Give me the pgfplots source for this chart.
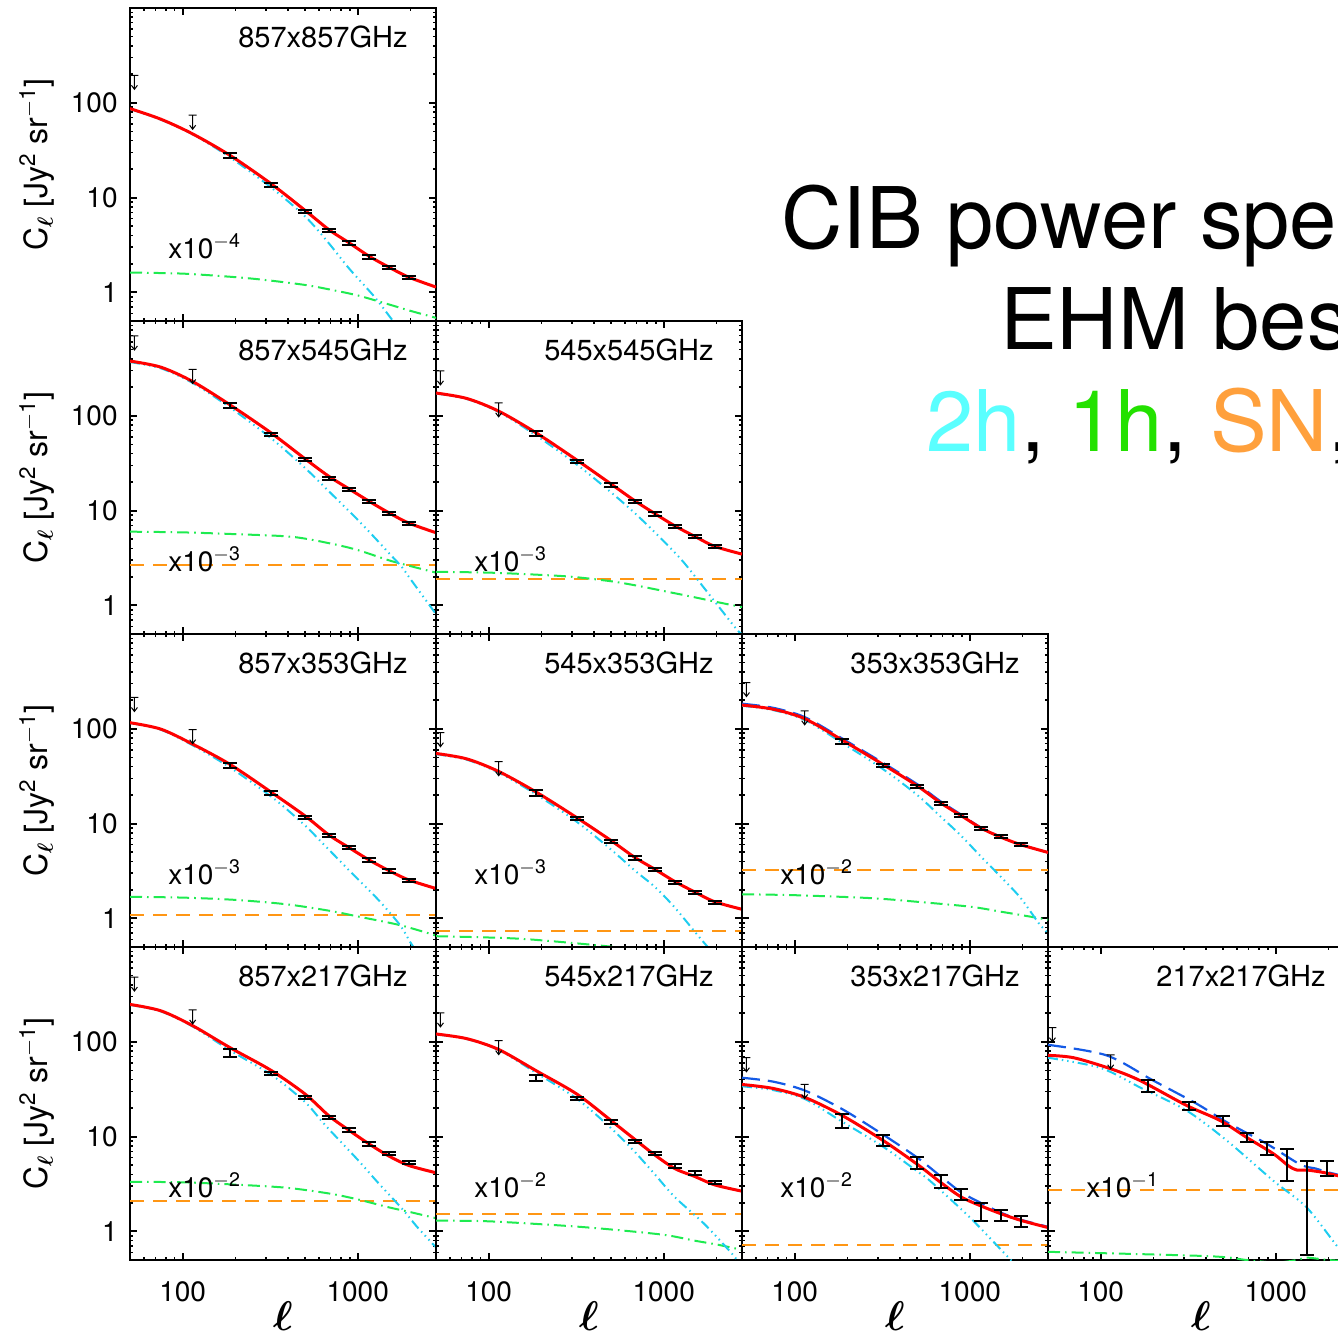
\documentclass[border=0pt]{standalone}
\usepackage{fontspec}
\setmainfont{TeX Gyre Heros}
\usepackage{bm}
\usepackage{pgfplots}
\pgfplotsset{compat=1.18}

\definecolor{cred}{RGB}{255,0,0}
\definecolor{c2h}{RGB}{30,205,240}
\definecolor{c1h}{RGB}{30,235,80}
\definecolor{csn}{RGB}{255,150,20}
\definecolor{cblue}{RGB}{20,90,230}
\definecolor{t2h}{RGB}{90,255,255}
\definecolor{t1h}{RGB}{35,225,0}
\definecolor{tsn}{RGB}{255,160,60}

\pgfdeclareplotmark{ul}{%
  \pgfpathmoveto{\pgfqpoint{-2pt}{0pt}}\pgfpathlineto{\pgfqpoint{2pt}{0pt}}%
  \pgfpathmoveto{\pgfqpoint{0pt}{0pt}}\pgfpathlineto{\pgfqpoint{0pt}{-7pt}}%
  \pgfpathmoveto{\pgfqpoint{-1.5pt}{-5pt}}\pgfpathlineto{\pgfqpoint{0pt}{-7pt}}\pgfpathlineto{\pgfqpoint{1.5pt}{-5pt}}%
  \pgfusepathqstroke}

\pgfplotsset{
  scale only axis, width=153pt, height=156.5pt,
  xmin=50, xmax=2800, ymin=0.5, ymax=1000,
  xtick={100,1000}, ytick={1,10,100},
  minor xtick={60,70,80,90,200,300,400,500,600,700,800,900,2000},
  minor ytick={0.6,0.7,0.8,0.9,2,3,4,5,6,7,8,9,20,30,40,50,60,70,80,90,200,300,400,500,600,700,800,900},
  tick align=inside, major tick length=3.5pt, minor tick length=1.6pt,
  every major tick/.append style={black, line width=1pt},
  every minor tick/.append style={black, line width=0.8pt},
  axis line style={line width=1.3pt},
  tick label style={font=\fontsize{14}{16}\selectfont},
  xticklabel style={anchor=center, yshift=-16pt},
  yticklabel style={anchor=east, inner sep=0pt, xshift=-6pt},
  ylabel style={at={(axis description cs:-0.304,0.5)}, anchor=center, font=\fontsize{16}{19}\selectfont},
  xlabel style={at={(axis description cs:0.5,-0.18)}, anchor=center, font=\fontsize{22}{26}\selectfont},
}
\tikzset{
  cibtot/.style={color=cred, line width=1.5pt, solid, mark=none, smooth},
  cibtwoh/.style={color=c2h, line width=1pt, mark=none, smooth, dash pattern=on 5pt off 2pt on 0.7pt off 2pt on 0.7pt off 2pt on 0.7pt off 2pt},
  ciboneh/.style={color=c1h, line width=1pt, mark=none, smooth, dash pattern=on 6pt off 2.5pt on 0.8pt off 2.5pt},
  cibsn/.style={color=csn, line width=1pt, mark=none, dash pattern=on 7pt off 4.5pt},
  cibbl/.style={color=cblue, line width=1.1pt, mark=none, smooth, dash pattern=on 9pt off 4pt},
  ciblim/.style={mark=ul, mark options={black, solid, line width=0.5pt}},
  plab/.style={anchor=north east, inner sep=0pt, font=\fontsize{14.5}{17}\selectfont, xshift=-14pt, yshift=-8.5pt},
  mlab/.style={anchor=base west, inner sep=0pt, font=\fontsize{14}{16}\selectfont},
}
\newcommand{\ylab}{C\textsubscript{$\bm{\ell}$} [Jy\textsuperscript{2} sr\textsuperscript{$-$1}]}

\begin{document}
\begin{tikzpicture}

% ---------- 857x857 ----------
\begin{loglogaxis}[anchor=north west, at={(65pt,-4pt)}, xticklabels={}, yticklabels={1,10,100}, ylabel={\ylab}]
\addplot[ciboneh] coordinates {(50,1.62)(100,1.58)(200,1.45)(300,1.35)(500,1.2)(700,1.07)(1000,0.93)(1500,0.75)(2000,0.64)(2800,0.54)};
\addplot[cibtwoh] coordinates {(50,86)(75,66.4)(114,46.5)(187,26.5)(320,12.8)(502,6.3)(684,3.3)(890,1.8)(1158,1.05)(1305,0.81)(1592,0.5)(2000,0.3)(2800,0.13)};
\addplot[cibtot] coordinates {(50,87)(75,67.2)(114,47)(187,27.8)(320,14)(502,7.3)(684,4.6)(890,3.35)(1158,2.42)(1505,1.85)(1956,1.45)(2800,1.14)};
\addplot[draw=none, mark=none, error bars/.cd, y dir=both, y explicit, error bar style={draw=black, solid, line width=1pt}, error mark options={draw=black, solid, rotate=90, mark size=3.5pt, line width=1pt}] coordinates {(187,27.8) +- (0,1.7) (320,13.6) +- (0,0.55) (502,7.1) +- (0,0.28) (684,4.48) +- (0,0.18) (890,3.32) +- (0,0.13) (1158,2.38) +- (0,0.1) (1505,1.83) +- (0,0.07) (1956,1.44) +- (0,0.06)};
\addplot[only marks, ciblim] coordinates {(53,195)(114,74)};
\node[plab] at (rel axis cs:1,1) {857x857GHz};
\node[mlab] at (rel axis cs:0.124,0.2) {x10\textsuperscript{$-$4}};
\end{loglogaxis}

% ---------- 857x545 ----------
\begin{loglogaxis}[anchor=north west, at={(65pt,-160.5pt)}, xticklabels={}, yticklabels={1,10,100}, ylabel={\ylab}]
\addplot[cibsn] coordinates {(50,2.66)(2800,2.66)};
\addplot[ciboneh] coordinates {(50,6.0)(100,5.9)(200,5.65)(420,5.3)(700,4.5)(1000,3.84)(1500,3.0)(2000,2.6)(2800,2.22)};
\addplot[cibtwoh] coordinates {(50,369)(75,317)(114,222)(187,122)(320,58)(502,28)(684,16)(1000,8.0)(1300,4.8)(1500,3.6)(1785,2.55)(2000,1.9)(2800,0.81)};
\addplot[cibtot] coordinates {(50,378)(75,326)(114,230)(187,130)(320,66)(502,35)(684,23)(890,17)(1158,12.6)(1505,9.5)(1956,7.4)(2800,5.85)};
\addplot[draw=none, mark=none, error bars/.cd, y dir=both, y explicit, error bar style={draw=black, solid, line width=1pt}, error mark options={draw=black, solid, rotate=90, mark size=3.5pt, line width=1pt}] coordinates {(187,128) +- (0,8) (320,64) +- (0,2.6) (502,34.4) +- (0,1.4) (684,22) +- (0,0.9) (890,16.6) +- (0,0.66) (1158,12.4) +- (0,0.5) (1505,9.4) +- (0,0.38) (1956,7.3) +- (0,0.3)};
\addplot[only marks, ciblim] coordinates {(53,695)(114,308)};
\node[plab] at (rel axis cs:1,1) {857x545GHz};
\node[mlab] at (rel axis cs:0.124,0.2) {x10\textsuperscript{$-$3}};
\end{loglogaxis}

% ---------- 545x545 ----------
\begin{loglogaxis}[anchor=north west, at={(218pt,-160.5pt)}, xticklabels={}, yticklabels={}]
\addplot[cibsn] coordinates {(50,1.92)(2800,1.92)};
\addplot[ciboneh] coordinates {(50,2.26)(100,2.22)(200,2.1)(305,2.0)(500,1.8)(700,1.62)(1000,1.42)(1500,1.22)(2000,1.09)(2800,0.96)};
\addplot[cibtwoh] coordinates {(50,172)(75,150.4)(114,110)(187,62)(320,30.5)(502,15.5)(684,9.4)(890,5.9)(1158,3.6)(1355,2.6)(1956,1.1)(2610,0.56)(2800,0.5)};
\addplot[cibtot] coordinates {(50,174)(75,152.4)(114,112)(187,66)(320,34)(502,19)(684,12.7)(890,9.3)(1158,6.9)(1505,5.35)(1956,4.2)(2800,3.48)};
\addplot[draw=none, mark=none, error bars/.cd, y dir=both, y explicit, error bar style={draw=black, solid, line width=1pt}, error mark options={draw=black, solid, rotate=90, mark size=3.5pt, line width=1pt}] coordinates {(187,65) +- (0,4) (320,33) +- (0,1.3) (502,18.7) +- (0,0.75) (684,12.4) +- (0,0.5) (890,9.2) +- (0,0.37) (1158,6.8) +- (0,0.27) (1505,5.3) +- (0,0.21) (1956,4.16) +- (0,0.17)};
\addplot[only marks, ciblim] coordinates {(53,298)(114,137)};
\node[plab] at (rel axis cs:1,1) {545x545GHz};
\node[mlab] at (rel axis cs:0.124,0.2) {x10\textsuperscript{$-$3}};
\end{loglogaxis}

% ---------- 857x353 ----------
\begin{loglogaxis}[anchor=north west, at={(65pt,-317pt)}, xticklabels={}, yticklabels={1,10,100}, ylabel={\ylab}]
\addplot[cibsn] coordinates {(50,1.08)(2800,1.08)};
\addplot[ciboneh] coordinates {(50,1.69)(100,1.66)(200,1.57)(393,1.41)(700,1.2)(1000,1.05)(1745,0.85)(2800,0.66)};
\addplot[cibtwoh] coordinates {(50,115)(75,97.8)(114,67)(187,39)(330,18.5)(502,9.5)(610,6.6)(944,2.9)(1300,1.6)(1745,0.85)(2080,0.5)(2800,0.25)};
\addplot[cibtot] coordinates {(50,116)(75,99.3)(114,69)(187,42)(320,21.5)(502,12)(684,7.6)(890,5.6)(1158,4.15)(1505,3.2)(1956,2.55)(2800,2.07)};
\addplot[draw=none, mark=none, error bars/.cd, y dir=both, y explicit, error bar style={draw=black, solid, line width=1pt}, error mark options={draw=black, solid, rotate=90, mark size=3.5pt, line width=1pt}] coordinates {(187,41) +- (0,2.5) (320,21.1) +- (0,0.85) (502,11.7) +- (0,0.47) (684,7.5) +- (0,0.3) (890,5.6) +- (0,0.22) (1158,4.13) +- (0,0.17) (1505,3.18) +- (0,0.13) (1956,2.5) +- (0,0.1)};
\addplot[only marks, ciblim] coordinates {(53,214)(114,98)};
\node[plab] at (rel axis cs:1,1) {857x353GHz};
\node[mlab] at (rel axis cs:0.124,0.2) {x10\textsuperscript{$-$3}};
\end{loglogaxis}

% ---------- 545x353 ----------
\begin{loglogaxis}[anchor=north west, at={(218pt,-317pt)}, xticklabels={}, yticklabels={}]
\addplot[cibsn] coordinates {(50,0.74)(2800,0.74)};
\addplot[ciboneh] coordinates {(50,0.65)(100,0.63)(175,0.6)(522,0.5)(1000,0.42)(2800,0.3)};
\addplot[cibtwoh] coordinates {(50,54)(75,47.2)(114,34.5)(187,20.3)(320,10.4)(502,5.3)(684,3.2)(890,2.15)(1158,1.3)(1706,0.55)(2800,0.2)};
\addplot[cibtot] coordinates {(50,55)(75,48.2)(114,35.5)(187,21.5)(320,11.5)(502,6.6)(684,4.4)(890,3.3)(1158,2.45)(1505,1.9)(1956,1.5)(2800,1.25)};
\addplot[draw=none, mark=none, error bars/.cd, y dir=both, y explicit, error bar style={draw=black, solid, line width=1pt}, error mark options={draw=black, solid, rotate=90, mark size=3.5pt, line width=1pt}] coordinates {(187,21.1) +- (0,1.3) (320,11.3) +- (0,0.45) (502,6.5) +- (0,0.26) (684,4.34) +- (0,0.17) (890,3.26) +- (0,0.13) (1158,2.41) +- (0,0.1) (1505,1.88) +- (0,0.08) (1956,1.48) +- (0,0.06)};
\addplot[only marks, ciblim] coordinates {(53,91)(114,45)};
\node[plab] at (rel axis cs:1,1) {545x353GHz};
\node[mlab] at (rel axis cs:0.124,0.2) {x10\textsuperscript{$-$3}};
\end{loglogaxis}

% ---------- 353x353 ----------
\begin{loglogaxis}[anchor=north west, at={(371pt,-317pt)}, xticklabels={}, yticklabels={}]
\addplot[cibsn] coordinates {(50,3.26)(2800,3.26)};
\addplot[ciboneh] coordinates {(50,1.8)(100,1.76)(270,1.64)(500,1.5)(1009,1.33)(1500,1.18)(2000,1.08)(2800,0.97)};
\addplot[cibtwoh] coordinates {(50,175)(75,157.8)(114,124)(187,71)(320,37.5)(502,20)(684,11.8)(890,7.5)(1158,4.5)(1505,2.75)(1956,1.64)(2480,0.89)(2800,0.7)};
\addplot[cibbl] coordinates {(50,184)(75,166.9)(114,133)(187,79)(320,43.7)(502,26)(684,17.1)(890,12.5)(1158,9.1)(1505,7.25)(1956,6.0)(2800,4.97)};
\addplot[cibtot] coordinates {(50,178)(75,161.3)(114,128)(187,76)(320,42)(502,25)(684,16.5)(890,12.2)(1158,9.0)(1505,7.2)(1956,6.0)(2800,4.97)};
\addplot[draw=none, mark=none, error bars/.cd, y dir=both, y explicit, error bar style={draw=black, solid, line width=1pt}, error mark options={draw=black, solid, rotate=90, mark size=3.5pt, line width=1pt}] coordinates {(187,74) +- (0,4.5) (320,41) +- (0,1.6) (502,24.5) +- (0,1.0) (684,16.3) +- (0,0.65) (890,12.2) +- (0,0.5) (1158,8.9) +- (0,0.36) (1505,7.3) +- (0,0.3) (1956,6.0) +- (0,0.24)};
\addplot[only marks, ciblim] coordinates {(53,308)(114,155)};
\node[plab] at (rel axis cs:1,1) {353x353GHz};
\node[mlab] at (rel axis cs:0.124,0.2) {x10\textsuperscript{$-$2}};
\end{loglogaxis}

% ---------- 857x217 ----------
\begin{loglogaxis}[anchor=north west, at={(65pt,-473.5pt)}, xticklabels={100,1000}, xlabel={$\bm{\ell}$}, yticklabels={1,10,100}, ylabel={\ylab}]
\addplot[cibsn] coordinates {(50,2.12)(2800,2.12)};
\addplot[ciboneh] coordinates {(50,3.34)(100,3.3)(200,3.12)(393,2.89)(700,2.5)(1009,2.17)(1500,1.8)(2000,1.6)(2800,1.38)};
\addplot[cibtwoh] coordinates {(50,245)(75,209.4)(114,145)(187,81)(323,44.5)(502,23)(650,13.3)(1009,5.6)(1300,3.3)(1785,1.75)(2200,1.1)(2800,0.68)};
\addplot[cibtot] coordinates {(50,248)(75,212.5)(114,148)(187,86.5)(320,50)(502,28)(684,16.6)(890,11.7)(1158,8.4)(1505,6.25)(1956,4.97)(2800,4.16)};
\addplot[draw=none, mark=none, error bars/.cd, y dir=both, y explicit, error bar style={draw=black, solid, line width=1pt}, error mark options={draw=black, solid, rotate=90, mark size=3.5pt, line width=1pt}] coordinates {(187,77) +- (0,7.5) (320,46.5) +- (0,1.9) (502,25.9) +- (0,1.0) (684,15.9) +- (0,0.64) (890,11.8) +- (0,0.47) (1158,8.4) +- (0,0.34) (1505,6.7) +- (0,0.27) (1956,5.3) +- (0,0.21)};
\addplot[only marks, ciblim] coordinates {(53,482)(114,217)};
\node[plab] at (rel axis cs:1,1) {857x217GHz};
\node[mlab] at (rel axis cs:0.124,0.2) {x10\textsuperscript{$-$2}};
\end{loglogaxis}

% ---------- 545x217 ----------
\begin{loglogaxis}[anchor=north west, at={(218pt,-473.5pt)}, xticklabels={100,1000}, xlabel={$\bm{\ell}$}, yticklabels={}]
\addplot[cibsn] coordinates {(50,1.54)(2800,1.54)};
\addplot[ciboneh] coordinates {(50,1.3)(100,1.28)(270,1.15)(500,1.05)(1009,0.92)(1500,0.8)(2000,0.73)(2800,0.64)};
\addplot[cibtwoh] coordinates {(50,120)(75,107)(114,82)(187,47)(320,25)(502,12.2)(684,6.9)(890,4.0)(1158,2.3)(1706,1.2)(2480,0.57)(2800,0.42)};
\addplot[cibtot] coordinates {(50,121)(75,108)(114,83)(187,49.5)(320,28)(502,14.7)(684,9.35)(890,6.4)(1158,4.6)(1505,3.8)(1956,3.1)(2800,2.66)};
\addplot[draw=none, mark=none, error bars/.cd, y dir=both, y explicit, error bar style={draw=black, solid, line width=1pt}, error mark options={draw=black, solid, rotate=90, mark size=3.5pt, line width=1pt}] coordinates {(187,42) +- (0,3.2) (320,25.3) +- (0,1.0) (502,14.3) +- (0,0.57) (684,8.9) +- (0,0.36) (890,6.7) +- (0,0.27) (1158,4.9) +- (0,0.2) (1505,4.16) +- (0,0.17) (1956,3.26) +- (0,0.13)};
\addplot[only marks, ciblim] coordinates {(53,202)(114,103)};
\node[plab] at (rel axis cs:1,1) {545x217GHz};
\node[mlab] at (rel axis cs:0.124,0.2) {x10\textsuperscript{$-$2}};
\end{loglogaxis}

% ---------- 353x217 ----------
\begin{loglogaxis}[anchor=north west, at={(371pt,-473.5pt)}, xticklabels={100,1000}, xlabel={$\bm{\ell}$}, yticklabels={}]
\addplot[cibsn] coordinates {(50,0.72)(2800,0.72)};
\addplot[ciboneh] coordinates {(50,0.35)(500,0.3)(2800,0.2)};
\addplot[cibtwoh] coordinates {(50,34)(75,31)(114,25)(182,14.8)(321,7.8)(502,4.3)(593,3.42)(1004,1.4)(1700,0.51)(2800,0.2)};
\addplot[cibbl] coordinates {(50,41.8)(75,38.1)(114,30.7)(187,19.5)(320,10.5)(502,6.0)(684,3.8)(890,2.6)(1158,2.0)(1505,1.58)(1956,1.33)(2800,1.12)};
\addplot[cibtot] coordinates {(50,35.5)(75,32.3)(114,26)(187,16.7)(320,9.1)(502,5.1)(684,3.28)(890,2.32)(1158,1.86)(1505,1.54)(1956,1.31)(2800,1.1)};
\addplot[draw=none, mark=none, error bars/.cd, y dir=both, y explicit, error bar style={draw=black, solid, line width=1pt}, error mark options={draw=black, solid, rotate=90, mark size=3.5pt, line width=1pt}] coordinates {(187,14.8) +- (0,2.5) (320,9.1) +- (0,1.2) (502,5.35) +- (0,0.8) (684,3.42) +- (0,0.57) (890,2.48) +- (0,0.35) (1158,1.65) +- (0,0.36) (1505,1.5) +- (0,0.2) (1956,1.29) +- (0,0.17)};
\addplot[only marks, ciblim] coordinates {(53,68)(114,35.5)};
\node[plab] at (rel axis cs:1,1) {353x217GHz};
\node[mlab] at (rel axis cs:0.124,0.2) {x10\textsuperscript{$-$2}};
\end{loglogaxis}

% ---------- 217x217 ----------
\begin{loglogaxis}[anchor=north west, at={(524pt,-473.5pt)}, xticklabels={100,1000}, xlabel={$\bm{\ell}$}, yticklabels={}]
\addplot[cibsn] coordinates {(50,2.73)(2800,2.73)};
\addplot[ciboneh] coordinates {(50,0.61)(404,0.55)(683,0.5)(1000,0.47)(1318,0.5)(1500,0.53)(2000,0.5)(2800,0.48)};
\addplot[cibtwoh] coordinates {(50,68)(100,53)(168,33)(310,18.8)(525,9.1)(970,3.42)(1503,1.79)(2270,0.68)(2800,0.45)};
\addplot[cibbl] coordinates {(50,93)(108,72)(200,39)(354,22.2)(525,14.2)(889,8.4)(1377,5.1)(1700,4.6)(2000,4.2)(2800,3.62)};
\addplot[cibtot] coordinates {(50,72)(70,68)(114,52)(168,39)(310,21.3)(481,14.8)(683,9.8)(970,6.6)(1181,4.93)(1318,4.45)(1503,4.45)(1872,4.19)(2270,3.87)(2800,3.6)};
\addplot[draw=none, mark=none, error bars/.cd, y dir=both, y explicit, error bar style={draw=black, solid, line width=1pt}, error mark options={draw=black, solid, rotate=90, mark size=3.5pt, line width=1pt}] coordinates {(187,34.6) +- (0,5.2) (320,21.3) +- (0,2.15) (502,14.65) +- (0,1.75) (684,9.75) +- (0,1.05) (890,7.55) +- (0,1.15) (1158,5.45) +- (0,2.05) (1505,3.08) +- (0,2.52) (1956,4.72) +- (0,0.85)};
\addplot[only marks, ciblim] coordinates {(53,141)(114,73)};
\node[plab] at (rel axis cs:1,1) {217x217GHz};
\node[mlab] at (rel axis cs:0.124,0.2) {x10\textsuperscript{$-$1}};
\end{loglogaxis}

% ---------- title ----------
\node[anchor=base west, inner sep=0pt, font=\fontsize{42.5}{50}\selectfont] at (390.5pt,-124.15pt) {CIB power spectra};
\node[anchor=base west, inner sep=0pt, font=\fontsize{42.5}{50}\selectfont] at (499.85pt,-175pt) {EHM best-fit};
\node[anchor=base west, inner sep=0pt, font=\fontsize{42.5}{50}\selectfont] at (463.15pt,-225.85pt) {\textcolor{t2h}{2h}, \textcolor{t1h}{1h}, \textcolor{tsn}{SN}, \textcolor{cred}{total}};

\pgfresetboundingbox
\path[use as bounding box] (0pt,0pt) rectangle (669pt,-668.5pt);
\end{tikzpicture}
\end{document}
